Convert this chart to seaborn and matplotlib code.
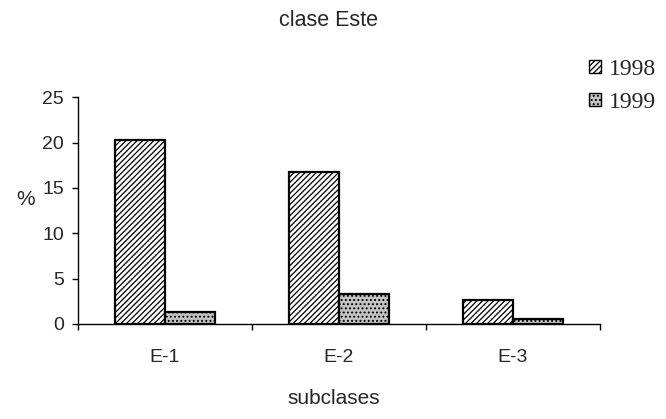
import matplotlib
matplotlib.use("Agg")
import matplotlib.pyplot as plt
from matplotlib.patches import Patch
import seaborn as sns
import pandas as pd

subclases = ["E-1", "E-2", "E-3"]
years = ["1998", "1999"]
vals_1998 = [20.3, 16.7, 2.6]
vals_1999 = [1.3, 3.3, 0.5]

df = pd.DataFrame({
    "subclase": subclases * 2,
    "year": [years[0]] * 3 + [years[1]] * 3,
    "pct": vals_1998 + vals_1999,
})

sns.set_theme(style="white")
plt.rcParams["font.family"] = ["Liberation Sans", "DejaVu Sans"]
plt.rcParams["hatch.linewidth"] = 0.9

fig = plt.figure(figsize=(6.66, 4.19), dpi=100)
ax = fig.add_axes([0.117, 0.227, 0.784, 0.541])

sns.barplot(data=df, x="subclase", y="pct", hue="year", order=subclases,
            hue_order=years, width=0.575, gap=0, ax=ax, legend=False,
            palette=["white", "#c4c4c4"], edgecolor="black", linewidth=1.6,
            saturation=1)

# 1998: dense diagonal hatch, 1999: stippled grey
styles = {0: ("white", "//////"), 1: ("#c4c4c4", "....")}
for i, cont in enumerate(ax.containers):
    fc, hatch = styles[i]
    for bar in cont:
        bar.set_facecolor(fc)
        bar.set_hatch(hatch)
        bar.set_edgecolor("black")

ax.set_xlim(-0.5, 2.5)
ax.set_ylim(0, 25)
ax.set_yticks([0, 5, 10, 15, 20, 25])
ax.set_xticks([-0.5, 0.5, 1.5, 2.5], minor=True)
ax.tick_params(axis="x", which="major", length=0, pad=18, labelsize=14)
ax.tick_params(axis="x", which="minor", length=4, width=1, direction="out",
               bottom=True, color="black")
ax.tick_params(axis="y", length=4, width=1, direction="out", left=True,
               color="black", labelsize=14, pad=6)

sns.despine(ax=ax)
for s in ("left", "bottom"):
    ax.spines[s].set_color("black")
    ax.spines[s].set_linewidth(1.0)

ax.set_xlabel("subclases", fontsize=15)
ax.xaxis.set_label_coords(0.49, -0.33)
ax.xaxis.label.set_va("center")
ax.set_ylabel("%", fontsize=15, rotation=0)
ax.yaxis.set_label_coords(-0.10, 0.55)
ax.yaxis.label.set_va("center")
ax.yaxis.label.set_ha("center")
fig.text(0.4925, 0.95, "clase Este", ha="center", va="center", fontsize=15.5)

handles = [Patch(facecolor=styles[0][0], hatch=styles[0][1], edgecolor="black"),
           Patch(facecolor=styles[1][0], hatch=styles[1][1], edgecolor="black")]
fig.legend(handles, years, loc="upper left", bbox_to_anchor=(0.884, 0.859),
           frameon=False, prop={"family": "Liberation Serif", "size": 17},
           handlelength=0.5, handleheight=0.5, handletextpad=0.35,
           labelspacing=0.5, borderpad=0, borderaxespad=0)

fig.savefig("out.png", dpi=100)
